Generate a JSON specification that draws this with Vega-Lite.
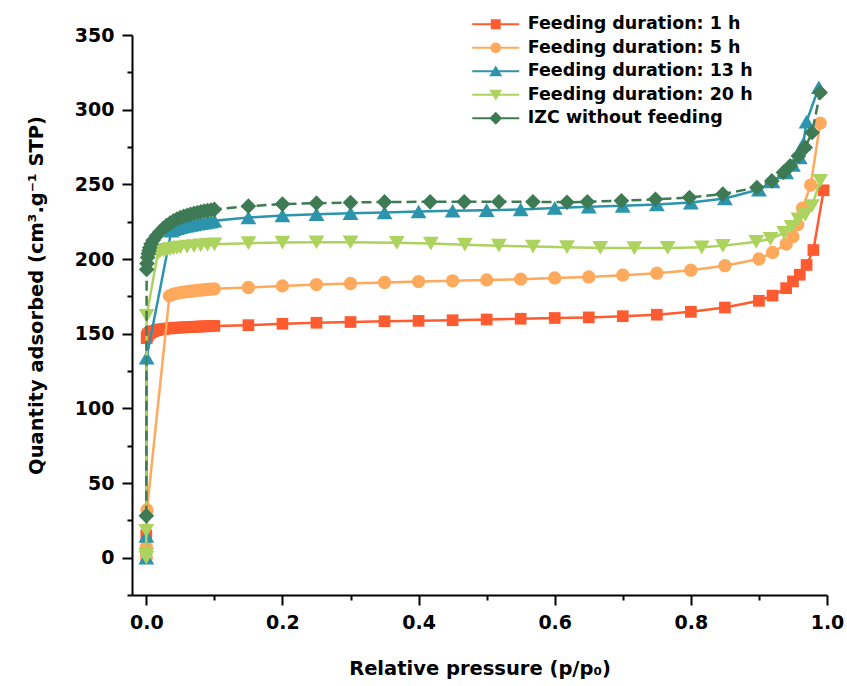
{
  "$schema": "https://vega.github.io/schema/vega-lite/v6.json",
  "width": 695,
  "height": 560,
  "autosize": {"type": "none"},
  "padding": {"left": 132, "top": 35, "right": 20, "bottom": 91},
  "background": "white",
  "config": {"view": {"stroke": null}, "font": "DejaVu Sans"},
  "datasets": {
    "d": [
      {"s":"Feeding duration: 1 h","x":0,"y":0},{"s":"Feeding duration: 1 h","x":0,"y":15},{"s":"Feeding duration: 1 h","x":0.0005,"y":147},{"s":"Feeding duration: 1 h","x":0.001,"y":148},{"s":"Feeding duration: 1 h","x":0.002,"y":149},{"s":"Feeding duration: 1 h","x":0.003,"y":149.7},{"s":"Feeding duration: 1 h","x":0.005,"y":150.5},{"s":"Feeding duration: 1 h","x":0.007,"y":151},{"s":"Feeding duration: 1 h","x":0.01,"y":151.7},{"s":"Feeding duration: 1 h","x":0.015,"y":152.3},{"s":"Feeding duration: 1 h","x":0.02,"y":152.8},{"s":"Feeding duration: 1 h","x":0.025,"y":153.1},{"s":"Feeding duration: 1 h","x":0.03,"y":153.4},{"s":"Feeding duration: 1 h","x":0.035,"y":153.6},{"s":"Feeding duration: 1 h","x":0.04,"y":153.8},{"s":"Feeding duration: 1 h","x":0.045,"y":154},{"s":"Feeding duration: 1 h","x":0.05,"y":154.1},{"s":"Feeding duration: 1 h","x":0.055,"y":154.2},{"s":"Feeding duration: 1 h","x":0.06,"y":154.4},{"s":"Feeding duration: 1 h","x":0.065,"y":154.5},{"s":"Feeding duration: 1 h","x":0.07,"y":154.6},{"s":"Feeding duration: 1 h","x":0.075,"y":154.7},{"s":"Feeding duration: 1 h","x":0.08,"y":154.8},{"s":"Feeding duration: 1 h","x":0.085,"y":154.9},{"s":"Feeding duration: 1 h","x":0.09,"y":155},{"s":"Feeding duration: 1 h","x":0.095,"y":155.1},{"s":"Feeding duration: 1 h","x":0.1,"y":155.2},{"s":"Feeding duration: 1 h","x":0.15,"y":155.7},{"s":"Feeding duration: 1 h","x":0.2,"y":156.6},{"s":"Feeding duration: 1 h","x":0.25,"y":157.3},{"s":"Feeding duration: 1 h","x":0.3,"y":157.8},{"s":"Feeding duration: 1 h","x":0.35,"y":158.3},{"s":"Feeding duration: 1 h","x":0.4,"y":158.6},{"s":"Feeding duration: 1 h","x":0.45,"y":159},{"s":"Feeding duration: 1 h","x":0.5,"y":159.5},{"s":"Feeding duration: 1 h","x":0.55,"y":160},{"s":"Feeding duration: 1 h","x":0.6,"y":160.5},{"s":"Feeding duration: 1 h","x":0.65,"y":160.9},{"s":"Feeding duration: 1 h","x":0.7,"y":161.7},{"s":"Feeding duration: 1 h","x":0.75,"y":162.7},{"s":"Feeding duration: 1 h","x":0.8,"y":164.6},{"s":"Feeding duration: 1 h","x":0.85,"y":167.5},{"s":"Feeding duration: 1 h","x":0.9,"y":172},{"s":"Feeding duration: 1 h","x":0.92,"y":175.5},{"s":"Feeding duration: 1 h","x":0.94,"y":180.5},{"s":"Feeding duration: 1 h","x":0.95,"y":185},{"s":"Feeding duration: 1 h","x":0.96,"y":189.5},{"s":"Feeding duration: 1 h","x":0.97,"y":196},{"s":"Feeding duration: 1 h","x":0.98,"y":206},{"s":"Feeding duration: 1 h","x":0.995,"y":246},
      {"s":"Feeding duration: 5 h","x":0,"y":0},{"s":"Feeding duration: 5 h","x":0,"y":7},{"s":"Feeding duration: 5 h","x":0.001,"y":32},{"s":"Feeding duration: 5 h","x":0.034,"y":175.3},{"s":"Feeding duration: 5 h","x":0.04,"y":176.5},{"s":"Feeding duration: 5 h","x":0.045,"y":177},{"s":"Feeding duration: 5 h","x":0.05,"y":177.5},{"s":"Feeding duration: 5 h","x":0.055,"y":177.8},{"s":"Feeding duration: 5 h","x":0.06,"y":178.1},{"s":"Feeding duration: 5 h","x":0.065,"y":178.4},{"s":"Feeding duration: 5 h","x":0.07,"y":178.7},{"s":"Feeding duration: 5 h","x":0.075,"y":179},{"s":"Feeding duration: 5 h","x":0.08,"y":179.2},{"s":"Feeding duration: 5 h","x":0.085,"y":179.4},{"s":"Feeding duration: 5 h","x":0.09,"y":179.6},{"s":"Feeding duration: 5 h","x":0.095,"y":179.8},{"s":"Feeding duration: 5 h","x":0.1,"y":180},{"s":"Feeding duration: 5 h","x":0.15,"y":180.9},{"s":"Feeding duration: 5 h","x":0.2,"y":182},{"s":"Feeding duration: 5 h","x":0.25,"y":182.9},{"s":"Feeding duration: 5 h","x":0.3,"y":183.6},{"s":"Feeding duration: 5 h","x":0.35,"y":184.3},{"s":"Feeding duration: 5 h","x":0.4,"y":184.9},{"s":"Feeding duration: 5 h","x":0.45,"y":185.4},{"s":"Feeding duration: 5 h","x":0.5,"y":186},{"s":"Feeding duration: 5 h","x":0.55,"y":186.5},{"s":"Feeding duration: 5 h","x":0.6,"y":187.3},{"s":"Feeding duration: 5 h","x":0.65,"y":188},{"s":"Feeding duration: 5 h","x":0.7,"y":189.2},{"s":"Feeding duration: 5 h","x":0.75,"y":190.5},{"s":"Feeding duration: 5 h","x":0.8,"y":192.5},{"s":"Feeding duration: 5 h","x":0.85,"y":195.5},{"s":"Feeding duration: 5 h","x":0.9,"y":200},{"s":"Feeding duration: 5 h","x":0.92,"y":204.4},{"s":"Feeding duration: 5 h","x":0.94,"y":210},{"s":"Feeding duration: 5 h","x":0.95,"y":215},{"s":"Feeding duration: 5 h","x":0.957,"y":223},{"s":"Feeding duration: 5 h","x":0.964,"y":234},{"s":"Feeding duration: 5 h","x":0.976,"y":249.5},{"s":"Feeding duration: 5 h","x":0.99,"y":291},
      {"s":"Feeding duration: 13 h","x":0,"y":0},{"s":"Feeding duration: 13 h","x":0,"y":14.5},{"s":"Feeding duration: 13 h","x":0.0005,"y":134},{"s":"Feeding duration: 13 h","x":0.037,"y":219},{"s":"Feeding duration: 13 h","x":0.04,"y":220},{"s":"Feeding duration: 13 h","x":0.045,"y":220.7},{"s":"Feeding duration: 13 h","x":0.05,"y":221.3},{"s":"Feeding duration: 13 h","x":0.055,"y":221.8},{"s":"Feeding duration: 13 h","x":0.06,"y":222.3},{"s":"Feeding duration: 13 h","x":0.065,"y":222.8},{"s":"Feeding duration: 13 h","x":0.07,"y":223.2},{"s":"Feeding duration: 13 h","x":0.075,"y":223.6},{"s":"Feeding duration: 13 h","x":0.08,"y":224},{"s":"Feeding duration: 13 h","x":0.085,"y":224.4},{"s":"Feeding duration: 13 h","x":0.09,"y":224.8},{"s":"Feeding duration: 13 h","x":0.095,"y":225.2},{"s":"Feeding duration: 13 h","x":0.1,"y":225.6},{"s":"Feeding duration: 13 h","x":0.15,"y":227.8},{"s":"Feeding duration: 13 h","x":0.2,"y":229.2},{"s":"Feeding duration: 13 h","x":0.25,"y":230},{"s":"Feeding duration: 13 h","x":0.3,"y":230.7},{"s":"Feeding duration: 13 h","x":0.35,"y":231.2},{"s":"Feeding duration: 13 h","x":0.4,"y":231.8},{"s":"Feeding duration: 13 h","x":0.45,"y":232.3},{"s":"Feeding duration: 13 h","x":0.5,"y":232.7},{"s":"Feeding duration: 13 h","x":0.55,"y":233.2},{"s":"Feeding duration: 13 h","x":0.6,"y":234.2},{"s":"Feeding duration: 13 h","x":0.65,"y":235},{"s":"Feeding duration: 13 h","x":0.7,"y":235.6},{"s":"Feeding duration: 13 h","x":0.75,"y":236.5},{"s":"Feeding duration: 13 h","x":0.8,"y":237.8},{"s":"Feeding duration: 13 h","x":0.85,"y":240.5},{"s":"Feeding duration: 13 h","x":0.9,"y":246.5},{"s":"Feeding duration: 13 h","x":0.92,"y":252},{"s":"Feeding duration: 13 h","x":0.94,"y":258},{"s":"Feeding duration: 13 h","x":0.95,"y":263},{"s":"Feeding duration: 13 h","x":0.96,"y":268},{"s":"Feeding duration: 13 h","x":0.965,"y":277},{"s":"Feeding duration: 13 h","x":0.97,"y":292},{"s":"Feeding duration: 13 h","x":0.988,"y":315},
      {"s":"Feeding duration: 20 h","x":0,"y":0},{"s":"Feeding duration: 20 h","x":0,"y":2},{"s":"Feeding duration: 20 h","x":0,"y":18},{"s":"Feeding duration: 20 h","x":0.0005,"y":162},{"s":"Feeding duration: 20 h","x":0.017,"y":204},{"s":"Feeding duration: 20 h","x":0.02,"y":205},{"s":"Feeding duration: 20 h","x":0.025,"y":205.7},{"s":"Feeding duration: 20 h","x":0.03,"y":206.2},{"s":"Feeding duration: 20 h","x":0.035,"y":206.6},{"s":"Feeding duration: 20 h","x":0.04,"y":207},{"s":"Feeding duration: 20 h","x":0.045,"y":207.4},{"s":"Feeding duration: 20 h","x":0.05,"y":207.8},{"s":"Feeding duration: 20 h","x":0.06,"y":208.3},{"s":"Feeding duration: 20 h","x":0.07,"y":208.7},{"s":"Feeding duration: 20 h","x":0.08,"y":209.1},{"s":"Feeding duration: 20 h","x":0.09,"y":209.5},{"s":"Feeding duration: 20 h","x":0.1,"y":209.8},{"s":"Feeding duration: 20 h","x":0.15,"y":210.6},{"s":"Feeding duration: 20 h","x":0.2,"y":211},{"s":"Feeding duration: 20 h","x":0.25,"y":211.2},{"s":"Feeding duration: 20 h","x":0.3,"y":211.2},{"s":"Feeding duration: 20 h","x":0.368,"y":210.8},{"s":"Feeding duration: 20 h","x":0.418,"y":210.3},{"s":"Feeding duration: 20 h","x":0.468,"y":209.6},{"s":"Feeding duration: 20 h","x":0.518,"y":208.9},{"s":"Feeding duration: 20 h","x":0.568,"y":208.3},{"s":"Feeding duration: 20 h","x":0.618,"y":207.9},{"s":"Feeding duration: 20 h","x":0.667,"y":207.4},{"s":"Feeding duration: 20 h","x":0.717,"y":207.3},{"s":"Feeding duration: 20 h","x":0.766,"y":207.4},{"s":"Feeding duration: 20 h","x":0.816,"y":207.8},{"s":"Feeding duration: 20 h","x":0.847,"y":208.8},{"s":"Feeding duration: 20 h","x":0.896,"y":211.5},{"s":"Feeding duration: 20 h","x":0.917,"y":213.5},{"s":"Feeding duration: 20 h","x":0.937,"y":217.5},{"s":"Feeding duration: 20 h","x":0.948,"y":221.5},{"s":"Feeding duration: 20 h","x":0.958,"y":226.5},{"s":"Feeding duration: 20 h","x":0.968,"y":229.5},{"s":"Feeding duration: 20 h","x":0.978,"y":235.5},{"s":"Feeding duration: 20 h","x":0.99,"y":252.4},
      {"s":"IZC without feeding","x":0,"y":28},{"s":"IZC without feeding","x":0.0005,"y":193},{"s":"IZC without feeding","x":0.001,"y":197},{"s":"IZC without feeding","x":0.002,"y":201},{"s":"IZC without feeding","x":0.003,"y":203.5},{"s":"IZC without feeding","x":0.004,"y":205.5},{"s":"IZC without feeding","x":0.005,"y":207.5},{"s":"IZC without feeding","x":0.007,"y":210},{"s":"IZC without feeding","x":0.01,"y":212.5},{"s":"IZC without feeding","x":0.015,"y":215.5},{"s":"IZC without feeding","x":0.02,"y":218},{"s":"IZC without feeding","x":0.025,"y":220.5},{"s":"IZC without feeding","x":0.03,"y":222.5},{"s":"IZC without feeding","x":0.035,"y":224},{"s":"IZC without feeding","x":0.04,"y":225.5},{"s":"IZC without feeding","x":0.045,"y":226.8},{"s":"IZC without feeding","x":0.05,"y":227.8},{"s":"IZC without feeding","x":0.055,"y":228.6},{"s":"IZC without feeding","x":0.06,"y":229.3},{"s":"IZC without feeding","x":0.065,"y":229.9},{"s":"IZC without feeding","x":0.07,"y":230.5},{"s":"IZC without feeding","x":0.075,"y":231},{"s":"IZC without feeding","x":0.08,"y":231.5},{"s":"IZC without feeding","x":0.085,"y":232},{"s":"IZC without feeding","x":0.09,"y":232.4},{"s":"IZC without feeding","x":0.095,"y":232.8},{"s":"IZC without feeding","x":0.1,"y":233.2},{"s":"IZC without feeding","x":0.15,"y":235.4},{"s":"IZC without feeding","x":0.2,"y":236.8},{"s":"IZC without feeding","x":0.25,"y":237.4},{"s":"IZC without feeding","x":0.3,"y":237.8},{"s":"IZC without feeding","x":0.35,"y":238.2},{"s":"IZC without feeding","x":0.417,"y":238.3},{"s":"IZC without feeding","x":0.467,"y":238.3},{"s":"IZC without feeding","x":0.518,"y":238.3},{"s":"IZC without feeding","x":0.568,"y":238.3},{"s":"IZC without feeding","x":0.618,"y":238},{"s":"IZC without feeding","x":0.648,"y":238.3},{"s":"IZC without feeding","x":0.698,"y":239},{"s":"IZC without feeding","x":0.748,"y":240},{"s":"IZC without feeding","x":0.798,"y":241.2},{"s":"IZC without feeding","x":0.847,"y":243.5},{"s":"IZC without feeding","x":0.897,"y":247.9},{"s":"IZC without feeding","x":0.919,"y":252.3},{"s":"IZC without feeding","x":0.936,"y":258},{"s":"IZC without feeding","x":0.946,"y":262.4},{"s":"IZC without feeding","x":0.958,"y":269},{"s":"IZC without feeding","x":0.968,"y":274.7},{"s":"IZC without feeding","x":0.978,"y":284.7},{"s":"IZC without feeding","x":0.99,"y":311.5}
    ]
  },
  "data": {"name": "d"},
  "encoding": {
    "x": {"field": "x", "type": "quantitative", "scale": {"domain": [-0.021, 1.0], "nice": false, "zero": false}, "axis": null},
    "y": {"field": "y", "type": "quantitative", "scale": {"domain": [-25, 350], "nice": false, "zero": false}, "axis": null}
  },
  "resolve": {"axis": {"x": "independent", "y": "independent"}},
  "layer": [
    {
      "transform": [{"filter": "datum.s === 'Feeding duration: 1 h'"}],
      "layer": [
        {"mark": {"type": "line", "color": "#FF5B30", "strokeWidth": 2.5}},
        {"mark": {"type": "point", "shape": "square", "filled": true, "opacity": 1, "size": 137, "color": "#FF5B30"}}
      ]
    },
    {
      "transform": [{"filter": "datum.s === 'Feeding duration: 5 h'"}],
      "layer": [
        {"mark": {"type": "line", "color": "#FFA95C", "strokeWidth": 2.5}},
        {"mark": {"type": "point", "shape": "circle", "filled": true, "opacity": 1, "size": 177, "color": "#FFA95C"}}
      ]
    },
    {
      "transform": [{"filter": "datum.s === 'Feeding duration: 13 h'"}],
      "layer": [
        {"mark": {"type": "line", "color": "#2C94AD", "strokeWidth": 2.5}},
        {"mark": {"type": "point", "shape": "triangle-up", "filled": true, "opacity": 1, "size": 250, "color": "#2C94AD"}}
      ]
    },
    {
      "transform": [{"filter": "datum.s === 'Feeding duration: 20 h'"}],
      "layer": [
        {"mark": {"type": "line", "color": "#ACD35E", "strokeWidth": 2.5}},
        {"mark": {"type": "point", "shape": "triangle-down", "filled": true, "opacity": 1, "size": 250, "color": "#ACD35E"}}
      ]
    },
    {
      "transform": [{"filter": "datum.s === 'IZC without feeding'"}],
      "layer": [
        {"mark": {"type": "line", "color": "#3E7B55", "strokeWidth": 2.5, "strokeDash": [10, 5]}},
        {"mark": {"type": "point", "shape": "diamond", "filled": true, "opacity": 1, "size": 246, "color": "#3E7B55"}}
      ]
    },
    {
      "mark": {"type": "point", "filled": true, "opacity": 1, "size": 0},
      "encoding": {
        "x": {"field": "x", "type": "quantitative", "scale": {"domain": [-0.021, 1.0], "nice": false, "zero": false},
          "axis": {"orient": "bottom", "values": [0, 0.2, 0.4, 0.6, 0.8, 1.0], "format": ".1f", "grid": false,
            "domainColor": "black", "domainWidth": 2, "tickColor": "black", "tickWidth": 2, "tickSize": 10,
            "labelFont": "DejaVu Sans", "labelFontSize": 19, "labelFontWeight": "bold", "labelColor": "black", "labelPadding": 8,
            "labelFlush": false, "labelOverlap": false,
            "title": "Relative pressure (p/p₀)", "titleFont": "DejaVu Sans", "titleFontSize": 19.5, "titleFontWeight": "bold", "titleColor": "black", "titlePadding": 27}},
        "y": {"field": "y", "type": "quantitative", "scale": {"domain": [-25, 350], "nice": false, "zero": false},
          "axis": {"orient": "left", "values": [0, 50, 100, 150, 200, 250, 300, 350], "grid": false,
            "domainColor": "black", "domainWidth": 2, "tickColor": "black", "tickWidth": 2, "tickSize": 10,
            "labelFont": "DejaVu Sans", "labelFontSize": 19, "labelFontWeight": "bold", "labelColor": "black", "labelPadding": 8,
            "labelFlush": false, "labelOverlap": false,
            "title": "Quantity adsorbed (cm³.g⁻¹ STP)", "titleFont": "DejaVu Sans", "titleFontSize": 19.5, "titleFontWeight": "bold", "titleColor": "black", "titlePadding": 28, "titleY": 260}},
        "color": {"field": "s", "type": "nominal",
          "scale": {"domain": ["Feeding duration: 1 h", "Feeding duration: 5 h", "Feeding duration: 13 h", "Feeding duration: 20 h", "IZC without feeding"],
            "range": ["#FF5B30", "#FFA95C", "#2C94AD", "#ACD35E", "#3E7B55"]},
          "legend": {"orient": "none", "legendX": 351.75, "legendY": -22.75, "title": null, "padding": 0,
            "labelFont": "DejaVu Sans", "labelFontSize": 17.5, "labelFontWeight": "bold", "labelColor": "black", "labelLimit": 400,
            "symbolSize": 552, "labelOffset": 20, "rowPadding": 2.5, "symbolStrokeWidth": 0, "symbolOpacity": 1}},
        "shape": {"field": "s", "type": "nominal",
          "scale": {"domain": ["Feeding duration: 1 h", "Feeding duration: 5 h", "Feeding duration: 13 h", "Feeding duration: 20 h", "IZC without feeding"],
            "range": [
              "M-2,-0.09H2V0.09H-2Z M-0.42,-0.42H0.42V0.42H-0.42Z",
              "M-2,-0.09H2V0.09H-2Z M-0.45,0A0.45,0.45 0 1,1 0.45,0A0.45,0.45 0 1,1 -0.45,0Z",
              "M-2,-0.09H2V0.09H-2Z M0,-0.5L0.55,0.42H-0.55Z",
              "M-2,-0.09H2V0.09H-2Z M0,0.5L-0.55,-0.42H0.55Z",
              "M-2,-0.09H2V0.09H-2Z M0,-0.55L0.55,0L0,0.55L-0.55,0Z"
            ]},
          "legend": {"orient": "none", "legendX": 351.75, "legendY": -22.75, "title": null, "padding": 0,
            "labelFont": "DejaVu Sans", "labelFontSize": 17.5, "labelFontWeight": "bold", "labelColor": "black", "labelLimit": 400,
            "symbolSize": 552, "labelOffset": 20, "rowPadding": 2.5, "symbolStrokeWidth": 0, "symbolOpacity": 1}}
      }
    },
    {
      "mark": {"type": "point", "filled": true, "opacity": 0, "size": 0},
      "encoding": {
        "x": {"field": "x", "type": "quantitative", "scale": {"domain": [-0.021, 1.0], "nice": false, "zero": false},
          "axis": {"orient": "bottom", "values": [0.1, 0.3, 0.5, 0.7, 0.9], "grid": false, "domain": false, "labels": false, "title": null,
            "tickColor": "black", "tickWidth": 2, "tickSize": 5}},
        "y": {"field": "y", "type": "quantitative", "scale": {"domain": [-25, 350], "nice": false, "zero": false},
          "axis": {"orient": "left", "values": [-25, 25, 75, 125, 175, 225, 275, 325], "grid": false, "domain": false, "labels": false, "title": null,
            "tickColor": "black", "tickWidth": 2, "tickSize": 5}}
      }
    }
  ]
}
